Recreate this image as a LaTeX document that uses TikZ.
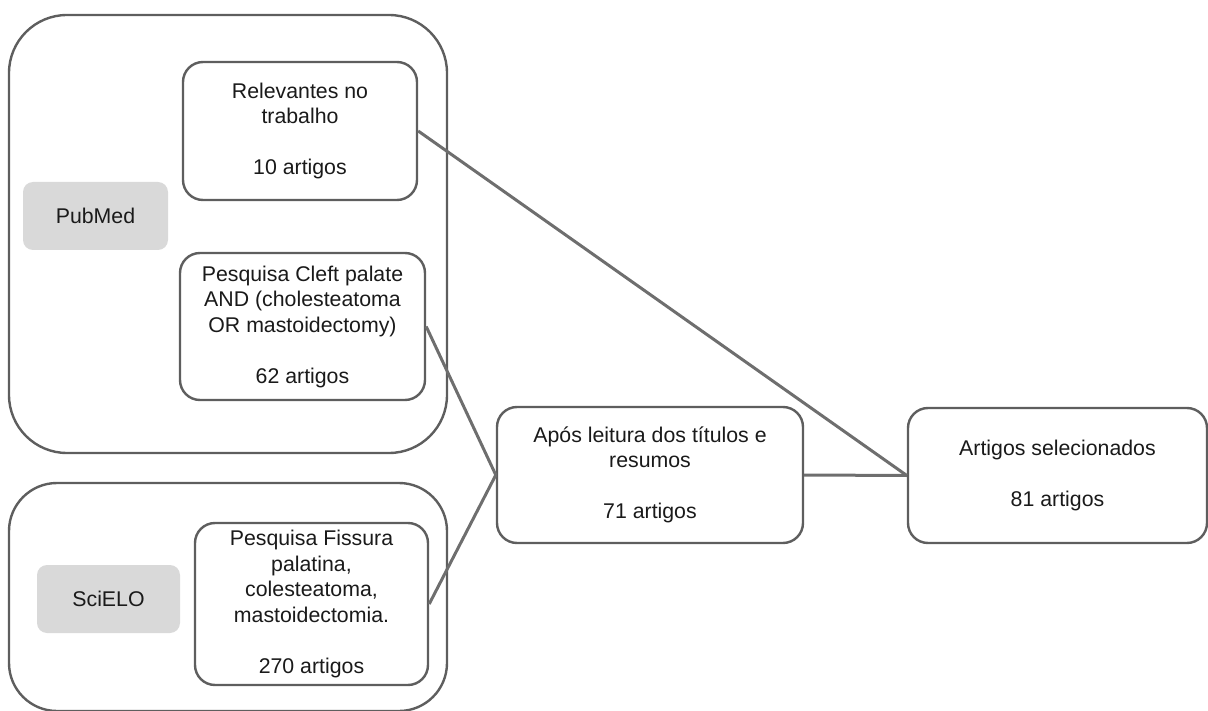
\documentclass[tikz,border=0pt]{standalone}
\usepackage{fontspec}
\setmainfont{Liberation Sans}
\usepackage{xcolor}
\usepackage{tikz}
\usetikzlibrary{positioning}

\definecolor{edgegray}{HTML}{5E5E5E}
\definecolor{linkgray}{HTML}{6E6E6E}
\definecolor{dbgray}{HTML}{D9D9D9}
\definecolor{txt}{HTML}{1A1A1A}

\begin{document}
\begin{tikzpicture}[x=1pt, y=-1pt,
  every node/.style={font=\fontsize{21.3}{25.5}\selectfont, text=txt, inner sep=0pt},
  grp/.style={draw=edgegray, line width=2.4pt, rounded corners=58pt},
  box/.style={draw=edgegray, line width=2.4pt, rounded corners=20pt, fill=white, align=center},
  db/.style={fill=dbgray, rounded corners=10pt, align=center},
  link/.style={draw=linkgray, line width=3pt}]

\useasboundingbox (0,0) rectangle (1208,711);

% source groups
\node (pubmedgrp) [grp, minimum width=438pt, minimum height=438pt] at (228,234) {};
\node (scielogrp) [grp, rounded corners=48pt, minimum width=438pt, minimum height=228pt] at (228,597) {};

\node (pubmed) [db, minimum width=145pt, minimum height=68pt] at (95.5,216) {PubMed};
\node (scielo) [db, minimum width=143pt, minimum height=68pt] at (108.5,599) {SciELO};

\node (relev) [box, minimum width=234pt, minimum height=138pt] at (300,131) {Relevantes no \\ trabalho \\[25.5pt] 10 artigos};
\node (cleft) [box, minimum width=245pt, minimum height=147pt] at (302.5,326.5) {Pesquisa Cleft palate \\ AND (cholesteatoma \\ OR mastoidectomy) \\[25.5pt] 62 artigos};
\node (fissura) [box, minimum width=233pt, minimum height=162pt] at (311.5,604) {Pesquisa Fissura \\ palatina, \\ colesteatoma, \\ mastoidectomia. \\[25.5pt] 270 artigos};

% screening
\node (leitura) [box, minimum width=306pt, minimum height=136pt] at (650,475) {Após leitura dos títulos e \\ resumos \\[25.5pt] 71 artigos};
\node (selec) [box, minimum width=299pt, minimum height=135pt] at (1057.5,475.5) {Artigos selecionados \\[25.5pt] 81 artigos};

\draw[link] (relev.east) -- (selec.west);
\draw[link] (cleft.east) -- (leitura.west);
\draw[link] (fissura.east) -- (leitura.west);
\draw[link] (leitura.east) -- (selec.west);

\end{tikzpicture}
\end{document}
